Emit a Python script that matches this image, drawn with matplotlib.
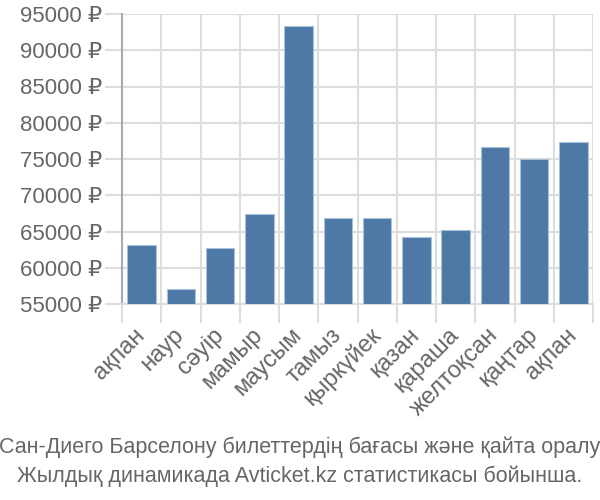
import numpy as np
import matplotlib
matplotlib.use('Agg')
import matplotlib.pyplot as plt
import matplotlib.transforms as mtransforms

plt.rcParams['font.family'] = ['Liberation Sans', 'DejaVu Sans']

# Данные
months = ['ақпан', 'наур', 'сәуір', 'мамыр', 'маусым', 'тамыз',
          'қыркүйек', 'қазан', 'қараша', 'желтоқсан', 'қаңтар', 'ақпан']
prices = [63100, 57100, 62700, 67400, 93300, 66800,
          66800, 64250, 65250, 76600, 75000, 77300]
yticks = [55000, 60000, 65000, 70000, 75000, 80000, 85000, 90000, 95000]
caption = ('Сан-Диего Барселону билеттердің бағасы және қайта оралу\n'
           'Жылдық динамикада Avticket.kz статистикасы бойынша.')

fig = plt.figure(figsize=(6, 5), dpi=100)
ax = fig.add_axes([122 / 600, 1 - 304 / 500, (593 - 122) / 600, (304 - 14) / 500])

x = np.arange(len(months))
ax.bar(x, prices, width=0.72, bottom=0, color='#4e79a7', edgecolor='#a9c0d9',
       linewidth=0.8, zorder=3)

ax.set_xlim(-0.5, len(months) - 0.5)
ax.set_ylim(55000, 95000)
ax.set_yticks(yticks)
ax.set_yticklabels([f'{v} ₽' for v in yticks])

# сетка по границам категорий
ax.set_xticks(np.arange(len(months) + 1) - 0.5, minor=False)
ax.set_xticklabels([])
ax.set_xticks(x, minor=True)
labels = ax.set_xticklabels(months, minor=True, rotation=45, ha='right',
                            va='center', rotation_mode='anchor')
shift = mtransforms.ScaledTranslation(-5 / 72, 0, fig.dpi_scale_trans)
for lab in labels:
    lab.set_transform(lab.get_transform() + shift)
ax.tick_params(axis='x', which='major', length=14, color='#dddddd', width=1.5)
ax.tick_params(axis='x', which='minor', length=0, pad=20, labelsize=17,
               labelcolor='#666666')
ax.tick_params(axis='y', length=12, color='#dddddd', width=1.5, labelsize=16,
               labelcolor='#666666', pad=2)
ax.grid(True, which='major', color='#dddddd', linewidth=1.5, zorder=0)

for s in ['top', 'right']:
    ax.spines[s].set_visible(False)
ax.spines['left'].set_color('#aaaaaa')
ax.spines['left'].set_linewidth(1.5)
ax.spines['bottom'].set_color('#dddddd')
ax.spines['bottom'].set_linewidth(1.5)

fig.text(0.5, 1 - 462 / 500, caption, ha='center', va='center', fontsize=15.5,
         color='#666666', linespacing=1.45)

fig.savefig('out.png', dpi=100)
